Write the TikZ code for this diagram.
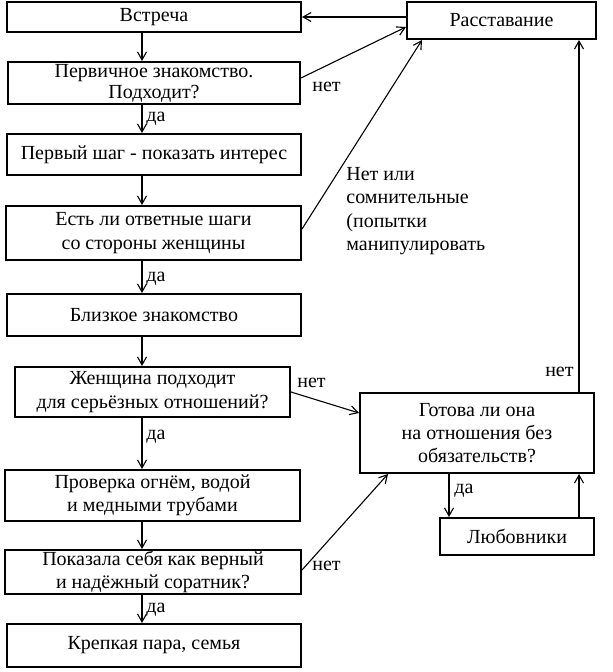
\documentclass[tikz,border=0pt]{standalone}
\usepackage{fontspec}
\setmainfont{Liberation Serif}
\usetikzlibrary{arrows.meta}

\begin{document}
\begin{tikzpicture}[x=0.5pt,y=-0.5pt,
flowbox/.style={draw,line width=1pt,inner sep=0pt,align=center,
font=\fontsize{10}{11.7}\selectfont},
reply/.style={inner sep=0pt,font=\fontsize{10}{11.7}\selectfont},
flowarrow/.style={line width=0.55pt,-{Straight Barb[length=4pt,width=4.5pt]}}]
\path[fill=white,use as bounding box] (0,0) rectangle (613,672);
\node[flowbox,minimum width=147pt,minimum height=15pt] (vstr) at (154,17) {Встреча};
\node[flowbox,minimum width=94.5pt,minimum height=18.5pt] (rasst) at (501.5,20.5) {Расставание};
\node[flowbox,minimum width=146pt,minimum height=21pt,font=\fontsize{10}{10.4}\selectfont] (perv) at (154,83) {Первичное знакомство.\\Подходит?};
\node[flowbox,minimum width=147pt,minimum height=20.5pt] (shag) at (154,154.5) {Первый шаг - показать интерес};
\node[flowbox,minimum width=147.5pt,minimum height=27pt] (est) at (153.5,233) {Есть ли ответные шаги\\со стороны женщины};
\node[flowbox,minimum width=147pt,minimum height=21pt] (blizk) at (154,315) {Близкое знакомство};
\node[flowbox,minimum width=137.5pt,minimum height=25pt] (zhensh) at (152.5,392) {Женщина подходит\\для серьёзных отношений?};
\node[flowbox,minimum width=147.5pt,minimum height=25.5pt] (prov) at (152.5,495.5) {Проверка огнём, водой\\и медными трубами};
\node[flowbox,minimum width=148pt,minimum height=22pt] (pokaz) at (153,572) {Показала себя как верный\\и надёжный соратник?};
\node[flowbox,minimum width=147pt,minimum height=21.5pt] (krep) at (154,645.5) {Крепкая пара, семья};
\node[flowbox,minimum width=117pt,minimum height=40pt] (gotova) at (477,433) {Готова ли она\\на отношения без\\обязательств?};
\node[flowbox,minimum width=77pt,minimum height=18.5pt] (lubov) at (517,536.5) {Любовники};

\coordinate (xmain) at (142,0);
\coordinate (xda) at (449,0);
\coordinate (xright) at (579,0);

\draw[flowarrow] (rasst.west |- vstr.east) -- (vstr.east);
\draw[flowarrow] (vstr.south -| xmain) -- (perv.north -| xmain);
\draw[flowarrow] ([shift={(0,-5)}]perv.east) -- ([shift={(0,6.5)}]rasst.west);
\draw[flowarrow] (perv.south -| xmain) -- (shag.north -| xmain);
\draw[flowarrow] (shag.south -| xmain) -- (est.north -| xmain);
\draw[flowarrow] ([shift={(0,-4)}]est.east) -- ([shift={(16,0)}]rasst.south west);
\draw[flowarrow] (est.south -| xmain) -- (blizk.north -| xmain);
\draw[flowarrow] (blizk.south -| xmain) -- (zhensh.north -| xmain);
\draw[flowarrow] (zhensh.east) -- ([shift={(0,-20)}]gotova.west);
\draw[flowarrow] (zhensh.south -| xmain) -- (prov.north -| xmain);
\draw[flowarrow] (prov.south -| xmain) -- (pokaz.north -| xmain);
\draw[flowarrow] ([shift={(0,-2)}]pokaz.east) -- ([shift={(29,0)}]gotova.south west);
\draw[flowarrow] (pokaz.south -| xmain) -- (krep.north -| xmain);
\draw[flowarrow] (gotova.south -| xda) -- (lubov.north -| xda);
\draw[flowarrow] (lubov.north -| xright) -- (gotova.south -| xright);
\draw[flowarrow] (gotova.north -| xright) -- (rasst.south -| xright);

\node[reply,anchor=base west] (no1) at (312,92) {нет};
\node[reply,anchor=base west] (yes1) at (146,122) {да};
\node[reply,anchor=west,align=left] (doubt) at (346,211) {Нет или\\сомнительные\\(попытки\\манипулировать};
\node[reply,anchor=base west] (yes2) at (146,282) {да};
\node[reply,anchor=base west] (no2) at (297,387) {нет};
\node[reply,anchor=base west] (yes3) at (146,439) {да};
\node[reply,anchor=base west] (no3) at (312,570) {нет};
\node[reply,anchor=base west] (yes4) at (146,612) {да};
\node[reply,anchor=base west] (yes5) at (454,493) {да};
\node[reply,anchor=base east] (no4) at (574,376) {нет};
\end{tikzpicture}
\end{document}
